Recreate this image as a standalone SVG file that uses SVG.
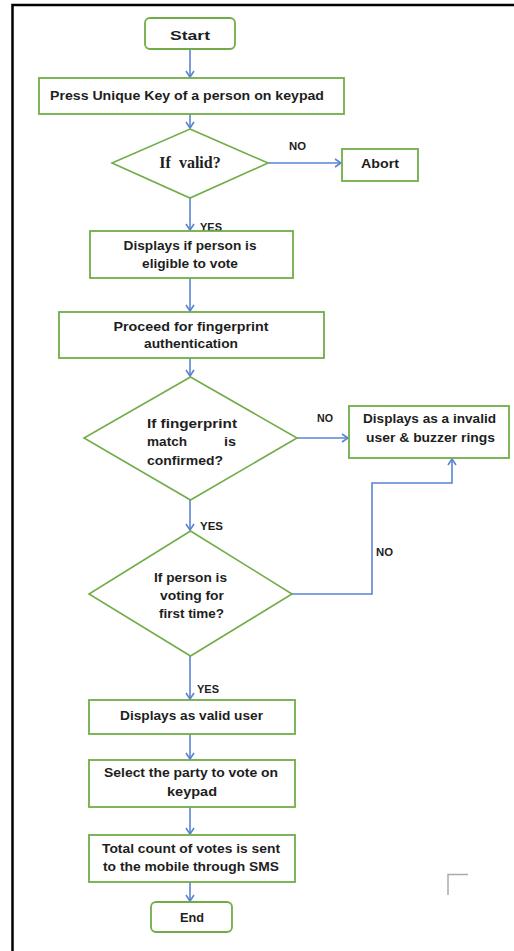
<svg xmlns="http://www.w3.org/2000/svg" width="514" height="951" viewBox="0 0 514 951">
<defs>
<marker id="ah" markerWidth="10" markerHeight="10" refX="8" refY="5" orient="auto" markerUnits="userSpaceOnUse">
<polyline points="2,1 8,5 2,9" fill="none" stroke="#5B83D2" stroke-width="1.6"/>
</marker>
<style>
.box{fill:#fff;stroke:#70AD47;stroke-width:1.8}
.dia{fill:#fff;stroke:#70AD47;stroke-width:1.6}
.t{font-family:"Liberation Sans",Arial,sans-serif;font-weight:bold;font-size:13.5px;fill:#1e1e1e;text-anchor:middle}
.tl{font-family:"Liberation Sans",Arial,sans-serif;font-weight:bold;font-size:13.5px;fill:#1e1e1e}
.lbl{font-family:"Liberation Sans",Arial,sans-serif;font-weight:bold;font-size:10.5px;fill:#1e1e1e}
.c{fill:none;stroke:#5B83D2;stroke-width:1.6;marker-end:url(#ah)}
</style>
</defs>
<rect width="514" height="951" fill="#fff"/>
<g id="frame">
<path d="M12.5,951 V5 H514" fill="none" stroke="#000" stroke-width="2.5"/>
<path d="M448,895 V874.5 H468" fill="none" stroke="#aaa" stroke-width="1.5"/>
</g>
<g id="connectors">
<path class="c" d="M190,49 V77"/>
<path class="c" d="M190,114 V128"/>
<path class="c" d="M268,163 H341"/>
<path class="c" d="M190,198 V230"/>
<path class="c" d="M190,278 V311"/>
<path class="c" d="M190,358 V376"/>
<path class="c" d="M297,438 H348"/>
<path class="c" d="M190,500 V530"/>
<path class="c" d="M292,594 H372 V483 H452 V459"/>
<path class="c" d="M190,656 V699"/>
<path class="c" d="M190,734 V759"/>
<path class="c" d="M190,807 V834"/>
<path class="c" d="M190,882 V901"/>
<text class="lbl" x="289" y="150" textLength="17" lengthAdjust="spacingAndGlyphs">NO</text>
<text class="lbl" x="200" y="231" textLength="22" lengthAdjust="spacingAndGlyphs">YES</text>
<text class="lbl" x="317" y="422" textLength="16" lengthAdjust="spacingAndGlyphs">NO</text>
<text class="lbl" x="200" y="530" textLength="23" lengthAdjust="spacingAndGlyphs">YES</text>
<text class="lbl" x="376" y="556" textLength="17" lengthAdjust="spacingAndGlyphs">NO</text>
<text class="lbl" x="197" y="693" textLength="22" lengthAdjust="spacingAndGlyphs">YES</text>
</g>
<g id="start">
<rect class="box" x="145" y="18" width="90" height="31" rx="5"/>
<text class="t" x="190" y="40" font-size="15.5" textLength="40" lengthAdjust="spacingAndGlyphs">Start</text>
</g>
<g id="press-key">
<rect class="box" x="39" y="78" width="305" height="36"/>
<text class="t" x="187" y="100" textLength="274" lengthAdjust="spacingAndGlyphs">Press Unique Key of a person on keypad</text>
</g>
<g id="if-valid">
<polygon class="dia" points="190,129 268,163 190,198 112,163"/>
<text x="190" y="168" font-family="'Liberation Serif','Times New Roman',serif" font-weight="bold" font-size="16" fill="#1e1e1e" text-anchor="middle" xml:space="preserve">If  valid?</text>
</g>
<g id="abort">
<rect class="box" x="342" y="149" width="76" height="32"/>
<text class="t" x="380" y="168" font-size="14.5" textLength="38" lengthAdjust="spacingAndGlyphs">Abort</text>
</g>
<g id="eligible">
<rect class="box" x="90" y="231" width="203" height="47"/>
<text class="t" x="190" y="250" textLength="133" lengthAdjust="spacingAndGlyphs">Displays if person is</text>
<text class="t" x="190" y="268" textLength="96" lengthAdjust="spacingAndGlyphs">eligible to vote</text>
</g>
<g id="fingerprint-auth">
<rect class="box" x="59" y="312" width="265" height="46"/>
<text class="t" x="191" y="331" textLength="155" lengthAdjust="spacingAndGlyphs">Proceed for fingerprint</text>
<text class="t" x="191" y="348" textLength="94" lengthAdjust="spacingAndGlyphs">authentication</text>
</g>
<g id="fingerprint-match">
<polygon class="dia" points="190.5,377 297,438 190.5,500 84,438"/>
<text class="tl" x="147" y="428" textLength="90" lengthAdjust="spacingAndGlyphs">If  fingerprint</text>
<text class="tl" x="147" y="446" textLength="40" lengthAdjust="spacingAndGlyphs">match</text>
<text class="tl" x="224" y="446" textLength="12" lengthAdjust="spacingAndGlyphs">is</text>
<text class="tl" x="147" y="465" textLength="76" lengthAdjust="spacingAndGlyphs">confirmed?</text>
</g>
<g id="invalid-user">
<rect class="box" x="349" y="406" width="160" height="52"/>
<text class="t" x="429.5" y="423" textLength="133" lengthAdjust="spacingAndGlyphs">Displays as a invalid</text>
<text class="t" x="430.5" y="442" textLength="129" lengthAdjust="spacingAndGlyphs">user &amp; buzzer rings</text>
</g>
<g id="first-time">
<polygon class="dia" points="190.5,531 292,594 190.5,656 89,594"/>
<text class="t" x="190.5" y="582" textLength="73" lengthAdjust="spacingAndGlyphs">If person is</text>
<text class="t" x="192" y="600" textLength="64" lengthAdjust="spacingAndGlyphs">voting for</text>
<text class="t" x="191.5" y="618" textLength="65" lengthAdjust="spacingAndGlyphs">first time?</text>
</g>
<g id="valid-user">
<rect class="box" x="89" y="700" width="206" height="34"/>
<text class="t" x="191.5" y="720" textLength="143" lengthAdjust="spacingAndGlyphs">Displays as valid user</text>
</g>
<g id="select-party">
<rect class="box" x="89" y="760" width="206" height="47"/>
<text class="t" x="191" y="777" textLength="174" lengthAdjust="spacingAndGlyphs">Select the party to vote on</text>
<text class="t" x="192" y="796" textLength="50" lengthAdjust="spacingAndGlyphs">keypad</text>
</g>
<g id="total-count">
<rect class="box" x="89" y="835" width="206" height="47"/>
<text class="t" x="191" y="853" textLength="178" lengthAdjust="spacingAndGlyphs">Total count of votes is sent</text>
<text class="t" x="191" y="871" textLength="176" lengthAdjust="spacingAndGlyphs">to the mobile through SMS</text>
</g>
<g id="end">
<rect class="box" x="151" y="902" width="81" height="30" rx="5"/>
<text class="t" x="192" y="922" font-size="14" textLength="24" lengthAdjust="spacingAndGlyphs">End</text>
</g>
</svg>
